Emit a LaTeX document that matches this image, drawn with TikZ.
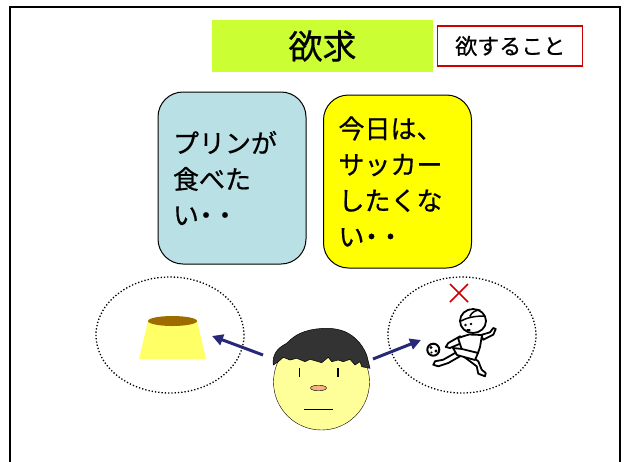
\documentclass[tikz,border=0pt]{standalone}
\usepackage{fontspec}
\newfontfamily\jp{Noto Sans CJK JP}[FakeBold=0.6]
\usetikzlibrary{arrows.meta,positioning,shapes.geometric}

\definecolor{titlegreen}{RGB}{204,255,51}
\definecolor{wishblue}{RGB}{185,224,228}
\definecolor{wishyellow}{RGB}{255,255,0}
\definecolor{meaningred}{RGB}{204,0,0}
\definecolor{arrownavy}{RGB}{40,40,120}
\definecolor{puddingbody}{RGB}{255,255,102}
\definecolor{caramel}{RGB}{158,107,0}
\definecolor{skin}{RGB}{255,255,153}
\definecolor{nosecolor}{RGB}{244,177,131}
\definecolor{haircolor}{RGB}{51,51,51}

\newcommand{\trail}{\kern-6pt・\kern-7pt・}

\tikzset{
	wishbox/.style={draw, line width=1pt, rounded corners=25pt,
		minimum width=148pt, minimum height=172pt, text width=118pt,
		inner xsep=15pt, align=left, font=\jp\fontsize{26}{36}\selectfont},
	thought/.style={draw, ellipse, dotted, line width=1.3pt,
		minimum width=148pt, minimum height=116pt},
	want/.style={-{Triangle[length=11pt,width=11pt]}, line width=3pt, arrownavy},
	lineart/.style={draw, fill=white, line width=1.8pt, line cap=round, line join=round}
}

\begin{document}
\begin{tikzpicture}[x=1pt,y=-1pt]
	\useasboundingbox (0,0) rectangle (624,461);
	\draw [line width=2.5pt] (10,7) rectangle (620,490);

	\node [fill=titlegreen, minimum width=221pt, minimum height=52pt,
		font=\jp\fontsize{34}{40}\selectfont] (title) at (322.5,46) {欲求};
	\node [draw=meaningred, line width=1.2pt, minimum width=145pt, minimum height=40pt,
		font=\jp\fontsize{22}{26}\selectfont, right=4pt of title] (meaning) {欲すること};

	\node [wishbox, fill=wishblue] (pudding) at (232,178)
	{
		プリンが\\
		食べた\\
		い\trail
	};
	\node [wishbox, fill=wishyellow, minimum height=173pt] (soccer) at (397.5,181.5)
	{
		今日は、\\
		サッカー\\
		したくな\\
		い\trail
	};

	\node [thought] (thinkL) at (170,335) {};
	\node [thought] (thinkR) at (462,335) {};

	% pudding
	\fill [puddingbody] (148,321) -- (197,321) -- (206,359) -- (139,359) -- cycle;
	\fill [caramel] (172.5,321) ellipse [x radius=24.5, y radius=5];

	% boy kicking a ball, crossed out
	\draw [meaningred, line width=1.5pt] (450,284) -- (468,302) (468,284) -- (450,302);
	\path [lineart] (455,353) -- (443.3,359.7) -- (435,361.3) -- (433.3,364.7)
		-- (438.3,366.3) -- (448.3,363) -- (460,356.3) -- cycle;
	\path [lineart] (463.3,356.3) -- (476.7,366.3) -- (478.3,373.7) -- (485,376.3)
		-- (485.7,373) -- (481.7,369.7) -- (478.3,361.3) -- (471.7,356.3) -- cycle;
	\path [lineart] (481,335) -- (490,332.3) -- (493.3,328) -- (495.7,329)
		-- (493.3,334.7) -- (483.3,339.7) -- cycle;
	\path [lineart] (460,336.3) -- (448.3,343) -- (445.7,347) -- (450,348)
		-- (461.7,343) -- cycle;
	\path [lineart] (458,338) -- (469,334.5) -- (482,335) -- (480,347) -- (478,353)
		-- (462,350) -- cycle;
	\path [lineart] (453,348) -- (462,349) -- (478,353) -- (475,360) -- (457,355) -- cycle;
	\path [lineart] (473,321) ellipse [x radius=13, y radius=12];
	\draw [line width=1.5pt, line cap=round] (461,321) .. controls (466,318) and (474,316) .. (484,316)
		(470,316) .. controls (472,312) and (476,310) .. (480,310);
	\fill (465.5,325) circle (1.3) (471,324) circle (1.3);
	\draw [line width=1.2pt, line cap=round] (467,330) -- (470,330);
	\path [lineart, line width=2pt] (433.3,349.7) circle (6);
	\fill (431,347.5) circle (1.6) (436,351) circle (1.6) (431.5,352.5) circle (1.1);

	% face
	\node [circle, draw, fill=skin, minimum size=96pt, inner sep=0pt] (face) at (321.5,382) {};
	\fill [haircolor, draw=black, line width=0.5pt]
		(273.3,365) .. controls (272,355) and (277,348) .. (286.7,343.3)
		.. controls (292,338) and (296,335) .. (301,333)
		.. controls (312,328) and (330,327) .. (340,330)
		.. controls (352,333) and (362,343) .. (366.7,355)
		-- (370,368.3) -- (361.7,366.7) -- (360,361.7) -- (355,365) -- (350,359.3)
		-- (343.3,361.7) -- (338.3,360) -- (331.7,361.7) -- (328.3,357.3)
		-- (321.7,362.7) -- (310,359.3) -- (305,361.7) -- (296.7,358.3)
		-- (290,360) -- (283.3,357.3) -- (278.3,361.7) -- cycle;
	\draw [line width=1.3pt] (299.5,368) -- (299.5,377) (338,368) -- (338,377);
	\draw [fill=nosecolor, line width=0.4pt] (318.5,388) ellipse [x radius=8, y radius=2.8];
	\draw [line width=1pt] (304,409.5) -- (333,409.5);

	\coordinate (gazeL) at (263,355);
	\coordinate (gazeR) at (373,359);
	\coordinate (wantL) at (212,336);
	\coordinate (wantR) at (421,340);
	\draw [want] (gazeL) -- (wantL);
	\draw [want] (gazeR) -- (wantR);
\end{tikzpicture}
\end{document}
